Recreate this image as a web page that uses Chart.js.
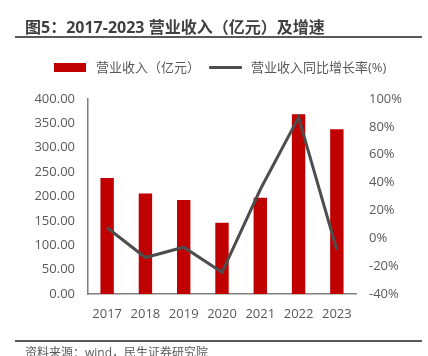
<!DOCTYPE html>
<html><head><meta charset="utf-8">
<script src="https://cdn.jsdelivr.net/npm/chart.js@4/dist/chart.umd.min.js"></script>
<style>
html,body{margin:0;padding:0;background:#fff;}
#wrap{position:relative;width:428px;height:356px;overflow:hidden;font-family:"Open Sans","Noto Sans CJK SC",sans-serif;}
#title{position:absolute;left:25px;top:16px;font-size:16px;font-weight:bold;color:#404040;font-family:"Open Sans","Noto Sans CJK SC",sans-serif;white-space:nowrap;line-height:22px;}
#tline{position:absolute;left:15px;top:36px;width:407px;height:2px;background:#595959;}
#bline{position:absolute;left:15px;top:340px;width:407px;height:1.5px;background:#595959;}
#src{position:absolute;left:25px;top:345px;font-size:12px;color:#595959;white-space:nowrap;line-height:16px;}
.lg{position:absolute;font-size:13px;color:#595959;white-space:nowrap;line-height:16px;top:59px;}
#lb{position:absolute;left:54px;top:63px;width:32px;height:9px;background:#C00000;}
#ll{position:absolute;left:209px;top:66px;width:33px;height:3px;background:#4d4d4d;border-radius:1px;}
canvas{position:absolute;left:0;top:0;}
</style></head>
<body><div id="wrap">
<canvas id="c" width="428" height="356"></canvas>
<div id="title">图5：2017-2023 营业收入（亿元）及增速</div>
<div id="tline"></div>
<div id="lb"></div><div class="lg" style="left:96px">营业收入（亿元）</div>
<div id="ll"></div><div class="lg" style="left:251px">营业收入同比增长率(%)</div>
<div id="bline"></div>
<div id="src">资料来源：wind，民生证券研究院</div>
</div>
<script>
const years = ["2017","2018","2019","2020","2021","2022","2023"];
const revenue = [238, 206, 193, 146, 197.5, 368.5, 338];
const growth = [7.6, -13.8, -6.4, -24.4, 35, 86.8, -8.4];
const leftTicks = [0, 400, 50];
const rightTicks = [-40, 100, 20];

const txt = '#595959';
const fnt = {family:'"Open Sans","Noto Sans CJK SC",sans-serif', size:13};
new Chart(document.getElementById('c'), {
  data: {
    labels: years,
    datasets: [
      {type:'line', label:'营业收入同比增长率(%)', data:growth, yAxisID:'y1', borderColor:'#4d4d4d', backgroundColor:'#4d4d4d', borderWidth:3, pointRadius:0, tension:0, order:0},
      {type:'bar', label:'营业收入（亿元）', data:revenue, yAxisID:'y', backgroundColor:'#C00000', categoryPercentage:1, barPercentage:0.35, order:1}
    ]
  },
  options: {
    responsive:false, animation:false, devicePixelRatio:1,
    layout:{padding:{top:99,bottom:0,left:0,right:0}},
    plugins:{legend:{display:false}, tooltip:{enabled:false}},
    scales:{
      x:{grid:{display:false,drawTicks:false}, border:{display:true,color:'#808080',width:1.5},
         ticks:{color:txt,font:fnt,padding:12,maxRotation:0},
         afterFit:s=>{s.height=62;}},
      y:{position:'left', min:leftTicks[0], max:leftTicks[1], grid:{display:false,drawTicks:false},
         border:{display:true,color:'#808080',width:1.5},
         ticks:{stepSize:leftTicks[2], color:txt, font:fnt, padding:13, callback:v=>v.toFixed(2)},
         afterFit:s=>{s.width=88;}},
      y1:{position:'right', min:rightTicks[0], max:rightTicks[1], grid:{display:false,drawTicks:false},
         border:{display:false},
         ticks:{stepSize:rightTicks[2], color:txt, font:fnt, padding:13, callback:v=>v+'%'},
         afterFit:s=>{s.width=72;}}
    }
  }
});
</script>
</body></html>
